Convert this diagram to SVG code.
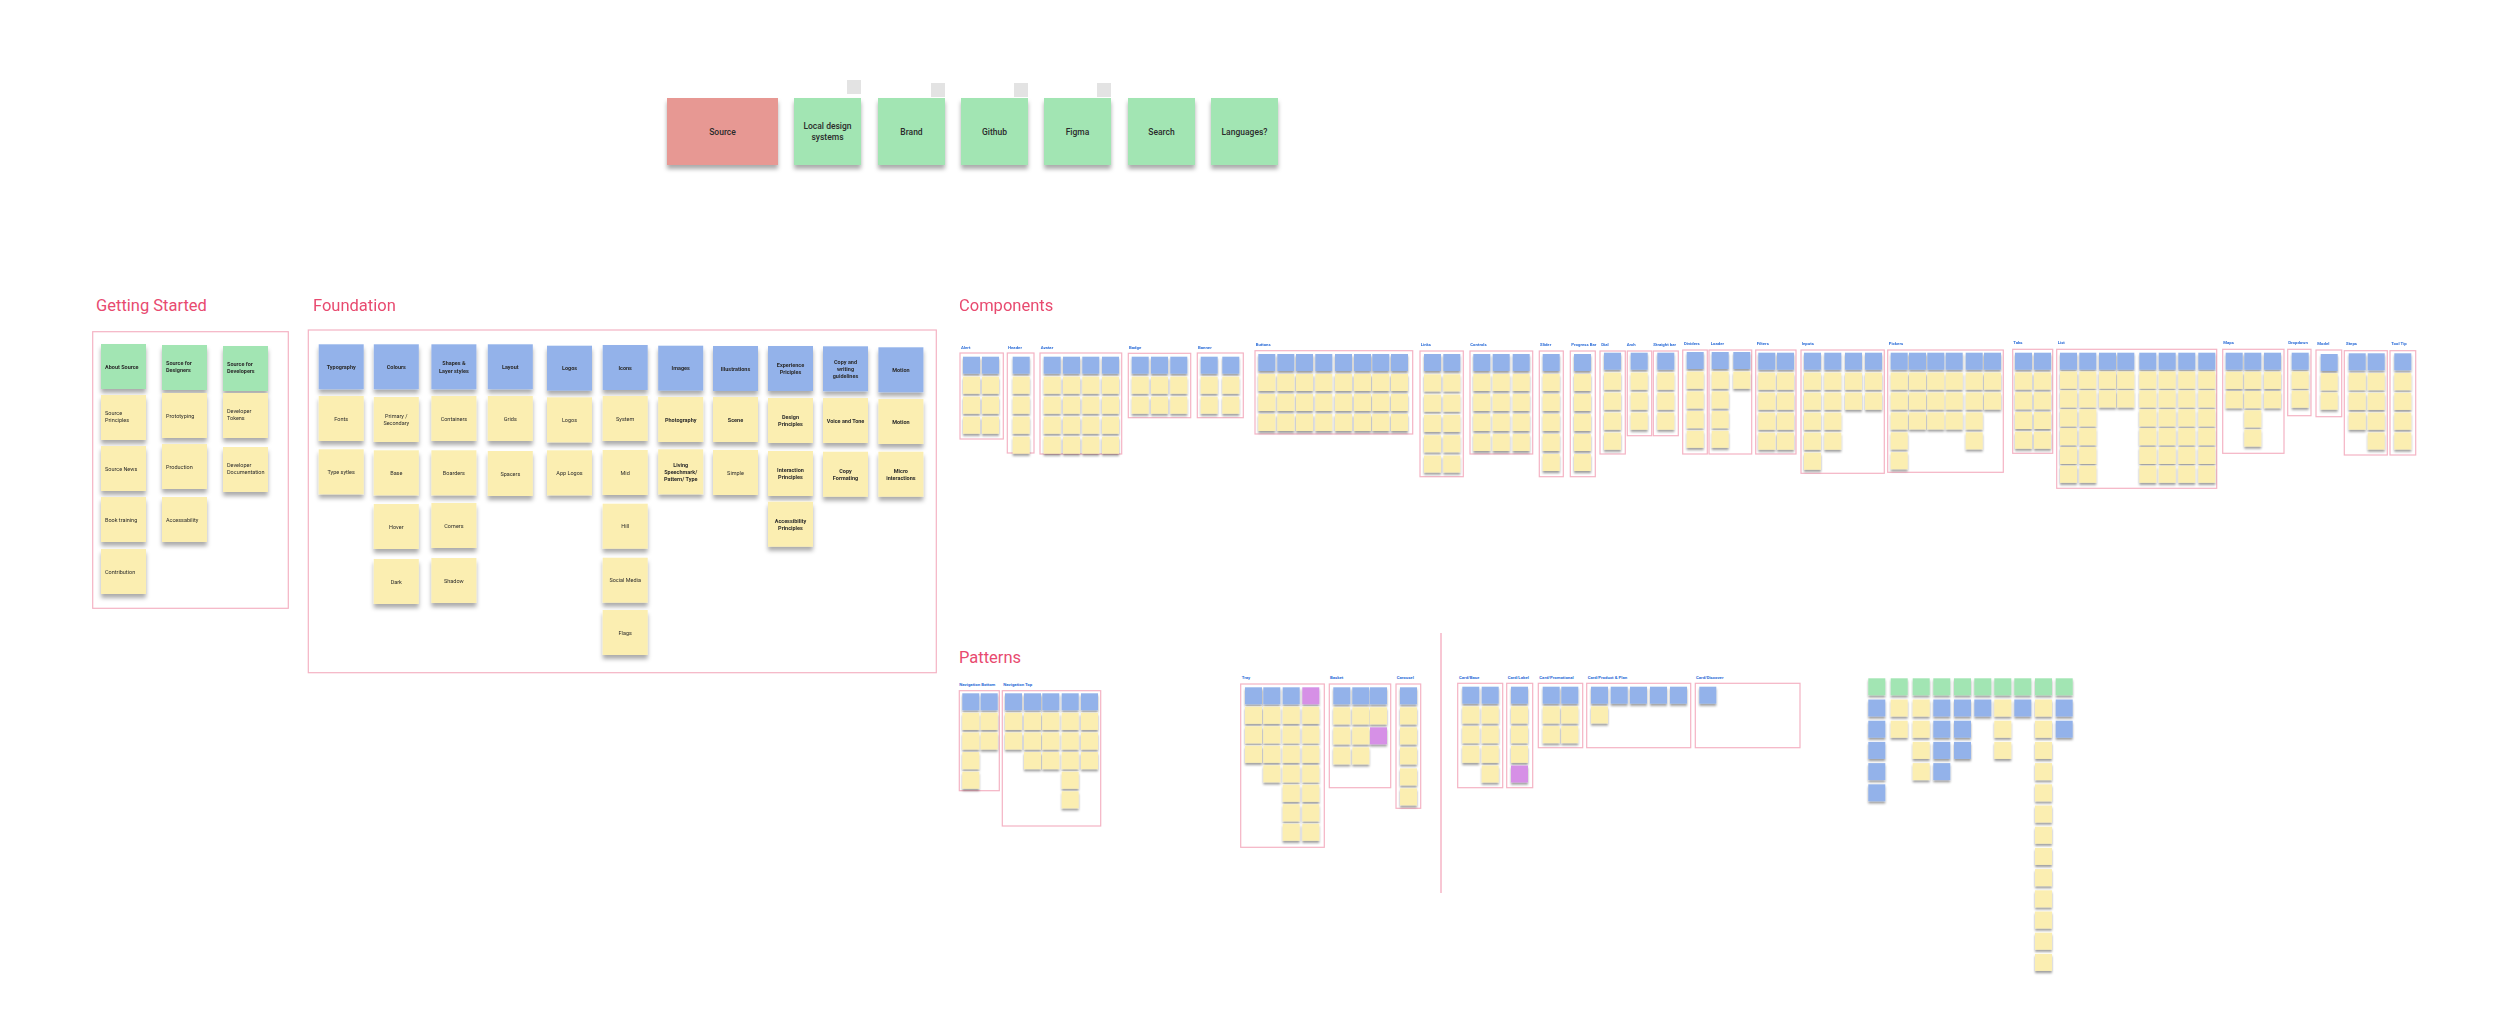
<svg xmlns="http://www.w3.org/2000/svg" width="2500" height="1011" viewBox="0 0 2500 1011">
<style>
text{font-family:Roboto,"Liberation Sans",Arial,sans-serif;fill:#2b2b2b}
.t{font-size:16.5px;fill:#E84A6F}
.lb{font-size:4.3px;font-weight:700;fill:#2F6FD8}
.big{font-size:8.5px;text-anchor:middle;font-weight:500}
.m{font-size:5.5px}
.c{text-anchor:middle}
.bd{font-weight:700}
.b{fill:#93B2EA}.y{fill:#FBEEB1}.g{fill:#A2E5B3}.p{fill:#D690E6}.r{fill:#E79893}
.box{fill:none;stroke:#F4B3C4;stroke-width:1.2}
.gray{fill:#E3E3E3}
</style>
<defs>
<rect id="n" width="17" height="17"/>
<rect id="N" width="45" height="45"/>
<filter id="sh" x="-20%" y="-20%" width="140%" height="160%"><feDropShadow dx="0" dy="4" stdDeviation="2.2" flood-color="#000" flood-opacity="0.33"/></filter>
<filter id="ss" x="-20%" y="-20%" width="140%" height="160%"><feDropShadow dx="0" dy="2.2" stdDeviation="1.3" flood-color="#000" flood-opacity="0.38"/></filter>
</defs>
<rect width="2500" height="1011" fill="#fff"/>

<!-- Top row -->
<g id="top">
<g class="gray"><rect x="847" y="80" width="14" height="14"/><rect x="931" y="83" width="14" height="14"/><rect x="1014" y="83" width="14" height="14"/><rect x="1097" y="83" width="14" height="14"/></g>
<g filter="url(#sh)">
<g id="n-source"><rect x="667" y="98" width="111" height="67" class="r"/></g>
<g id="n-local"><rect x="794" y="98" width="67" height="67" class="g"/></g>
<g id="n-brand"><rect x="878" y="98" width="67" height="67" class="g"/></g>
<g id="n-github"><rect x="961" y="98" width="67" height="67" class="g"/></g>
<g id="n-figma"><rect x="1044" y="98" width="67" height="67" class="g"/></g>
<g id="n-search"><rect x="1128" y="98" width="67" height="67" class="g"/></g>
<g id="n-lang"><rect x="1211" y="98" width="67" height="67" class="g"/></g>
</g>
<text class="big" x="722.5" y="134.5">Source</text>
<text class="big" x="827.5" y="129">Local design</text><text class="big" x="827.5" y="140">systems</text>
<text class="big" x="911.5" y="134.5">Brand</text>
<text class="big" x="994.5" y="134.5">Github</text>
<text class="big" x="1077.5" y="134.5">Figma</text>
<text class="big" x="1161.5" y="134.5">Search</text>
<text class="big" x="1244.5" y="134.5">Languages?</text>
</g>

<!-- Getting Started -->
<g id="getting-started">
<text class="t" x="96" y="311">Getting Started</text>
<rect class="box" x="92.7" y="331.7" width="195.6" height="276.6"/>
<g filter="url(#sh)">
<use href="#N" x="101" y="344" class="g"/><use href="#N" x="101" y="395" class="y"/><use href="#N" x="101" y="446" class="y"/><use href="#N" x="101" y="497" class="y"/><use href="#N" x="101" y="549" class="y"/>
<use href="#N" x="162" y="345" class="g"/><use href="#N" x="162" y="393" class="y"/><use href="#N" x="162" y="444" class="y"/><use href="#N" x="162" y="497" class="y"/>
<use href="#N" x="223" y="346" class="g"/><use href="#N" x="223" y="393" class="y"/><use href="#N" x="223" y="447" class="y"/>
</g>
<g class="m">
<text class="bd" x="105" y="368.5">About Source</text>
<text x="105" y="415">Source</text><text x="105" y="422.3">Principles</text>
<text x="105" y="470.5">Source News</text>
<text x="105" y="521.5">Book training</text>
<text x="105" y="573.5">Contribution</text>
<text class="bd" x="166" y="364.5">Source for</text><text class="bd" x="166" y="371.8">Designers</text>
<text x="166" y="417.5">Prototyping</text>
<text x="166" y="468.5">Production</text>
<text x="166" y="521.5">Accessability</text>
<text class="bd" x="227" y="365.5">Source for</text><text class="bd" x="227" y="372.8">Developers</text>
<text x="227" y="412.5">Developer</text><text x="227" y="419.8">Tokens</text>
<text x="227" y="466.5">Developer</text><text x="227" y="473.8">Documentation</text>
</g>
</g>

<!-- Foundation -->
<g id="foundation">
<text class="t" x="313" y="311">Foundation</text>
<rect class="box" x="308.3" y="330" width="628" height="342.7"/>
<g filter="url(#sh)">
<use href="#N" x="318.7" y="344.3" class="b"/><use href="#N" x="318.7" y="396" class="y"/><use href="#N" x="318.7" y="449.3" class="y"/>
<use href="#N" x="373.8" y="344.3" class="b"/><use href="#N" x="373.8" y="397" class="y"/><use href="#N" x="373.8" y="450.3" class="y"/><use href="#N" x="373.8" y="504" class="y"/><use href="#N" x="373.8" y="559" class="y"/>
<use href="#N" x="431.4" y="344.3" class="b"/><use href="#N" x="431.4" y="396" class="y"/><use href="#N" x="431.4" y="450.3" class="y"/><use href="#N" x="431.4" y="503" class="y"/><use href="#N" x="431.4" y="558" class="y"/>
<use href="#N" x="487.8" y="344.3" class="b"/><use href="#N" x="487.8" y="396" class="y"/><use href="#N" x="487.8" y="451" class="y"/>
<use href="#N" x="547" y="345.7" class="b"/><use href="#N" x="547" y="397.3" class="y"/><use href="#N" x="547" y="450.3" class="y"/>
<use href="#N" x="602.7" y="345" class="b"/><use href="#N" x="602.7" y="396" class="y"/><use href="#N" x="602.7" y="450" class="y"/><use href="#N" x="602.7" y="503.7" class="y"/><use href="#N" x="602.7" y="557.7" class="y"/><use href="#N" x="602.7" y="610" class="y"/>
<use href="#N" x="658.2" y="345.7" class="b"/><use href="#N" x="658.2" y="397" class="y"/><use href="#N" x="658.2" y="449.3" class="y"/>
<use href="#N" x="713" y="346" class="b"/><use href="#N" x="713" y="397" class="y"/><use href="#N" x="713" y="450" class="y"/>
<use href="#N" x="768" y="346" class="b"/><use href="#N" x="768" y="398" class="y"/><use href="#N" x="768" y="451" class="y"/><use href="#N" x="768" y="501.7" class="y"/>
<use href="#N" x="823" y="346.3" class="b"/><use href="#N" x="823" y="398" class="y"/><use href="#N" x="823" y="451.7" class="y"/>
<use href="#N" x="878.4" y="347.3" class="b"/><use href="#N" x="878.4" y="399" class="y"/><use href="#N" x="878.4" y="451.7" class="y"/>
</g>
<g class="m c">
<text class="bd" x="341.2" y="368.8">Typography</text>
<text x="341.2" y="420.5">Fonts</text>
<text x="341.2" y="473.8">Type sytles</text>
<text class="bd" x="396.3" y="368.8">Colours</text>
<text x="396.3" y="417.8">Primary /</text><text x="396.3" y="425.1">Secondary</text>
<text x="396.3" y="474.8">Base</text>
<text x="396.3" y="528.5">Hover</text>
<text x="396.3" y="583.5">Dark</text>
<text class="bd" x="453.9" y="365.2">Shapes &amp;</text><text class="bd" x="453.9" y="372.5">Layer styles</text>
<text x="453.9" y="420.5">Containers</text>
<text x="453.9" y="474.8">Boarders</text>
<text x="453.9" y="527.5">Corners</text>
<text x="453.9" y="582.5">Shadow</text>
<text class="bd" x="510.3" y="368.8">Layout</text>
<text x="510.3" y="420.5">Grids</text>
<text x="510.3" y="475.5">Spacers</text>
<text class="bd" x="569.5" y="370.2">Logos</text>
<text x="569.5" y="421.8">Logos</text>
<text x="569.5" y="474.8">App Logos</text>
<text class="bd" x="625.2" y="369.5">Icons</text>
<text x="625.2" y="420.5">System</text>
<text x="625.2" y="474.5">Mid</text>
<text x="625.2" y="528.2">Hill</text>
<text x="625.2" y="582.2">Social Media</text>
<text x="625.2" y="634.5">Flags</text>
<text class="bd" x="680.7" y="370.2">Images</text>
<text class="bd" x="680.7" y="421.5">Photography</text>
<text class="bd" x="680.7" y="466.5">Living</text><text class="bd" x="680.7" y="473.8">Speechmark/</text><text class="bd" x="680.7" y="481.1">Pattern/ Type</text>
<text class="bd" x="735.5" y="370.5">Illustrations</text>
<text class="bd" x="735.5" y="421.5">Scene</text>
<text x="735.5" y="474.5">Simple</text>
<text class="bd" x="790.5" y="366.8">Experience</text><text class="bd" x="790.5" y="374.1">Priciples</text>
<text class="bd" x="790.5" y="418.8">Design</text><text class="bd" x="790.5" y="426.1">Principles</text>
<text class="bd" x="790.5" y="471.8">Interaction</text><text class="bd" x="790.5" y="479.1">Principles</text>
<text class="bd" x="790.5" y="522.5">Accessibility</text><text class="bd" x="790.5" y="529.8">Principles</text>
<text class="bd" x="845.5" y="363.5">Copy and</text><text class="bd" x="845.5" y="370.8">writing</text><text class="bd" x="845.5" y="378.1">guidelines</text>
<text class="bd" x="845.5" y="422.5">Voice and Tone</text>
<text class="bd" x="845.5" y="472.5">Copy</text><text class="bd" x="845.5" y="479.8">Formating</text>
<text class="bd" x="900.9" y="371.8">Motion</text>
<text class="bd" x="900.9" y="423.5">Motion</text>
<text class="bd" x="900.9" y="472.5">Micro</text><text class="bd" x="900.9" y="479.8">interactions</text>
</g>
</g>

<!-- Components -->
<g id="components">
<text class="t" x="959" y="311">Components</text>

<g id="c-alert"><text class="lb" x="961" y="349">Alert</text><rect class="box" x="960" y="353" width="43.3" height="86"/>
<g filter="url(#ss)"><use href="#n" x="963" y="356.7" class="b"/><use href="#n" x="982" y="356.7" class="b"/>
<use href="#n" x="963" y="376.7" class="y"/><use href="#n" x="982" y="376.7" class="y"/><use href="#n" x="963" y="396.7" class="y"/><use href="#n" x="982" y="396.7" class="y"/><use href="#n" x="963" y="416.7" class="y"/><use href="#n" x="982" y="416.7" class="y"/></g></g>

<g id="c-header"><text class="lb" x="1008" y="349">Header</text><rect class="box" x="1007.3" y="353" width="26.7" height="100"/>
<g filter="url(#ss)"><use href="#n" x="1012.7" y="356.7" class="b"/><use href="#n" x="1012.7" y="376.7" class="y"/><use href="#n" x="1012.7" y="396.7" class="y"/><use href="#n" x="1012.7" y="416.7" class="y"/><use href="#n" x="1012.7" y="436.7" class="y"/></g></g>

<g id="c-avatar"><text class="lb" x="1040.7" y="349">Avatar</text><rect class="box" x="1040" y="353" width="81.7" height="101"/>
<g filter="url(#ss)">
<use href="#n" x="1043.7" y="356.7" class="b"/><use href="#n" x="1063" y="356.7" class="b"/><use href="#n" x="1082.3" y="356.7" class="b"/><use href="#n" x="1102" y="356.7" class="b"/>
<use href="#n" x="1043.7" y="376.7" class="y"/><use href="#n" x="1063" y="376.7" class="y"/><use href="#n" x="1082.3" y="376.7" class="y"/><use href="#n" x="1102" y="376.7" class="y"/>
<use href="#n" x="1043.7" y="396.7" class="y"/><use href="#n" x="1063" y="396.7" class="y"/><use href="#n" x="1082.3" y="396.7" class="y"/><use href="#n" x="1102" y="396.7" class="y"/>
<use href="#n" x="1043.7" y="416.7" class="y"/><use href="#n" x="1063" y="416.7" class="y"/><use href="#n" x="1082.3" y="416.7" class="y"/><use href="#n" x="1102" y="416.7" class="y"/>
<use href="#n" x="1043.7" y="436.7" class="y"/><use href="#n" x="1063" y="436.7" class="y"/><use href="#n" x="1082.3" y="436.7" class="y"/><use href="#n" x="1102" y="436.7" class="y"/>
</g></g>

<g id="c-badge"><text class="lb" x="1129" y="349">Badge</text><rect class="box" x="1128.3" y="353.3" width="62.4" height="64.4"/>
<g filter="url(#ss)">
<use href="#n" x="1131.7" y="356.7" class="b"/><use href="#n" x="1151" y="356.7" class="b"/><use href="#n" x="1170.3" y="356.7" class="b"/>
<use href="#n" x="1131.7" y="376.7" class="y"/><use href="#n" x="1151" y="376.7" class="y"/><use href="#n" x="1170.3" y="376.7" class="y"/>
<use href="#n" x="1131.7" y="396.7" class="y"/><use href="#n" x="1151" y="396.7" class="y"/><use href="#n" x="1170.3" y="396.7" class="y"/>
</g></g>

<g id="c-banner"><text class="lb" x="1198" y="349">Banner</text><rect class="box" x="1197.3" y="353" width="46" height="64.7"/>
<g filter="url(#ss)">
<use href="#n" x="1200.7" y="356.7" class="b"/><use href="#n" x="1222.3" y="356.7" class="b"/>
<use href="#n" x="1200.7" y="376.7" class="y"/><use href="#n" x="1222.3" y="376.7" class="y"/>
<use href="#n" x="1200.7" y="396.7" class="y"/><use href="#n" x="1222.3" y="396.7" class="y"/>
</g></g>

<g id="c-buttons"><text class="lb" x="1255.7" y="346">Buttons</text><rect class="box" x="1255" y="350.7" width="157.7" height="83.3"/>
<g filter="url(#ss)">
<use href="#n" x="1258.3" y="354" class="b"/><use href="#n" x="1277.3" y="354" class="b"/><use href="#n" x="1296" y="354" class="b"/><use href="#n" x="1315.3" y="354" class="b"/><use href="#n" x="1335" y="354" class="b"/><use href="#n" x="1354" y="354" class="b"/><use href="#n" x="1372.3" y="354" class="b"/><use href="#n" x="1391" y="354" class="b"/>
<use href="#n" x="1258.3" y="374" class="y"/><use href="#n" x="1277.3" y="374" class="y"/><use href="#n" x="1296" y="374" class="y"/><use href="#n" x="1315.3" y="374" class="y"/><use href="#n" x="1335" y="374" class="y"/><use href="#n" x="1354" y="374" class="y"/><use href="#n" x="1372.3" y="374" class="y"/><use href="#n" x="1391" y="374" class="y"/>
<use href="#n" x="1258.3" y="394" class="y"/><use href="#n" x="1277.3" y="394" class="y"/><use href="#n" x="1296" y="394" class="y"/><use href="#n" x="1315.3" y="394" class="y"/><use href="#n" x="1335" y="394" class="y"/><use href="#n" x="1354" y="394" class="y"/><use href="#n" x="1372.3" y="394" class="y"/><use href="#n" x="1391" y="394" class="y"/>
<use href="#n" x="1258.3" y="414" class="y"/><use href="#n" x="1277.3" y="414" class="y"/><use href="#n" x="1296" y="414" class="y"/><use href="#n" x="1315.3" y="414" class="y"/><use href="#n" x="1335" y="414" class="y"/><use href="#n" x="1354" y="414" class="y"/><use href="#n" x="1372.3" y="414" class="y"/><use href="#n" x="1391" y="414" class="y"/>
</g></g>

<g id="c-links"><text class="lb" x="1420.7" y="346">Links</text><rect class="box" x="1420" y="351" width="43.3" height="125.7"/>
<g filter="url(#ss)">
<use href="#n" x="1424" y="354" class="b"/><use href="#n" x="1443.3" y="354" class="b"/>
<use href="#n" x="1424" y="374.3" class="y"/><use href="#n" x="1443.3" y="374.3" class="y"/>
<use href="#n" x="1424" y="394.6" class="y"/><use href="#n" x="1443.3" y="394.6" class="y"/>
<use href="#n" x="1424" y="414.9" class="y"/><use href="#n" x="1443.3" y="414.9" class="y"/>
<use href="#n" x="1424" y="435.2" class="y"/><use href="#n" x="1443.3" y="435.2" class="y"/>
<use href="#n" x="1424" y="455.5" class="y"/><use href="#n" x="1443.3" y="455.5" class="y"/>
</g></g>

<g id="c-controls"><text class="lb" x="1470.3" y="346">Controls</text><rect class="box" x="1470" y="351" width="62.7" height="103"/>
<g filter="url(#ss)">
<use href="#n" x="1473.3" y="354" class="b"/><use href="#n" x="1492.7" y="354" class="b"/><use href="#n" x="1512.7" y="354" class="b"/>
<use href="#n" x="1473.3" y="374" class="y"/><use href="#n" x="1492.7" y="374" class="y"/><use href="#n" x="1512.7" y="374" class="y"/>
<use href="#n" x="1473.3" y="394" class="y"/><use href="#n" x="1492.7" y="394" class="y"/><use href="#n" x="1512.7" y="394" class="y"/>
<use href="#n" x="1473.3" y="414" class="y"/><use href="#n" x="1492.7" y="414" class="y"/><use href="#n" x="1512.7" y="414" class="y"/>
<use href="#n" x="1473.3" y="434" class="y"/><use href="#n" x="1492.7" y="434" class="y"/><use href="#n" x="1512.7" y="434" class="y"/>
</g></g>

<g id="c-slider"><text class="lb" x="1540" y="346">Slider</text><rect class="box" x="1539.3" y="351" width="24" height="125.7"/>
<g filter="url(#ss)"><use href="#n" x="1542.7" y="354" class="b"/><use href="#n" x="1542.7" y="374" class="y"/><use href="#n" x="1542.7" y="394" class="y"/><use href="#n" x="1542.7" y="414" class="y"/><use href="#n" x="1542.7" y="434" class="y"/><use href="#n" x="1542.7" y="454" class="y"/></g></g>

<g id="c-progress"><text class="lb" x="1571.3" y="346">Progress Bar</text><rect class="box" x="1570.3" y="351" width="25" height="125.7"/>
<g filter="url(#ss)"><use href="#n" x="1574" y="354" class="b"/><use href="#n" x="1574" y="374" class="y"/><use href="#n" x="1574" y="394" class="y"/><use href="#n" x="1574" y="414" class="y"/><use href="#n" x="1574" y="434" class="y"/><use href="#n" x="1574" y="454" class="y"/></g></g>

<g id="c-dial"><text class="lb" x="1601.3" y="346">Dial</text><rect class="box" x="1600" y="351" width="25.3" height="103"/>
<g filter="url(#ss)"><use href="#n" x="1604" y="352.7" class="b"/><use href="#n" x="1604" y="372.7" class="y"/><use href="#n" x="1604" y="392.7" class="y"/><use href="#n" x="1604" y="412.7" class="y"/><use href="#n" x="1604" y="432.7" class="y"/></g></g>

<g id="c-arch"><text class="lb" x="1626.7" y="346">Arch</text><rect class="box" x="1627.3" y="351" width="24.4" height="84.7"/>
<g filter="url(#ss)"><use href="#n" x="1630.7" y="352.7" class="b"/><use href="#n" x="1630.7" y="372.7" class="y"/><use href="#n" x="1630.7" y="392.7" class="y"/><use href="#n" x="1630.7" y="412.7" class="y"/></g></g>

<g id="c-straight"><text class="lb" x="1653.3" y="346">Straight bar</text><rect class="box" x="1653.3" y="351" width="25" height="84.7"/>
<g filter="url(#ss)"><use href="#n" x="1657.3" y="352.7" class="b"/><use href="#n" x="1657.3" y="372.7" class="y"/><use href="#n" x="1657.3" y="392.7" class="y"/><use href="#n" x="1657.3" y="412.7" class="y"/></g></g>

<g id="c-dividers"><text class="lb" x="1684" y="345">Dividers</text><rect class="box" x="1682.7" y="350" width="24.6" height="104"/>
<g filter="url(#ss)"><use href="#n" x="1686.7" y="352" class="b"/><use href="#n" x="1686.7" y="371.7" class="y"/><use href="#n" x="1686.7" y="391.4" class="y"/><use href="#n" x="1686.7" y="411.1" class="y"/><use href="#n" x="1686.7" y="430.8" class="y"/></g></g>

<g id="c-loader"><text class="lb" x="1710.7" y="345">Loader</text><rect class="box" x="1709" y="350" width="42.7" height="104"/>
<g filter="url(#ss)"><use href="#n" x="1711.7" y="352" class="b"/><use href="#n" x="1711.7" y="371.7" class="y"/><use href="#n" x="1711.7" y="391.4" class="y"/><use href="#n" x="1711.7" y="411.1" class="y"/><use href="#n" x="1711.7" y="430.8" class="y"/>
<use href="#n" x="1733.3" y="352" class="b"/><use href="#n" x="1733.3" y="371.7" class="y"/></g></g>

<g id="c-filters"><text class="lb" x="1756.7" y="345">Filters</text><rect class="box" x="1755.7" y="350" width="40.3" height="104"/>
<g filter="url(#ss)">
<use href="#n" x="1758.3" y="352.7" class="b"/><use href="#n" x="1777" y="352.7" class="b"/>
<use href="#n" x="1758.3" y="372.7" class="y"/><use href="#n" x="1777" y="372.7" class="y"/>
<use href="#n" x="1758.3" y="392.7" class="y"/><use href="#n" x="1777" y="392.7" class="y"/>
<use href="#n" x="1758.3" y="412.7" class="y"/><use href="#n" x="1777" y="412.7" class="y"/>
<use href="#n" x="1758.3" y="432.7" class="y"/><use href="#n" x="1777" y="432.7" class="y"/>
</g></g>

<g id="c-inputs"><text class="lb" x="1801.7" y="345">Inputs</text><rect class="box" x="1801" y="350" width="83.3" height="123.3"/>
<g filter="url(#ss)">
<use href="#n" x="1804" y="352.7" class="b"/><use href="#n" x="1824.3" y="352.7" class="b"/><use href="#n" x="1845" y="352.7" class="b"/><use href="#n" x="1865" y="352.7" class="b"/>
<use href="#n" x="1804" y="372.7" class="y"/><use href="#n" x="1824.3" y="372.7" class="y"/><use href="#n" x="1845" y="372.7" class="y"/><use href="#n" x="1865" y="372.7" class="y"/>
<use href="#n" x="1804" y="392.7" class="y"/><use href="#n" x="1824.3" y="392.7" class="y"/><use href="#n" x="1845" y="392.7" class="y"/><use href="#n" x="1865" y="392.7" class="y"/>
<use href="#n" x="1804" y="412.7" class="y"/><use href="#n" x="1824.3" y="412.7" class="y"/>
<use href="#n" x="1804" y="432.7" class="y"/><use href="#n" x="1824.3" y="432.7" class="y"/>
<use href="#n" x="1804" y="452.7" class="y"/>
</g></g>

<g id="c-pickers"><text class="lb" x="1888.7" y="345">Pickers</text><rect class="box" x="1887.7" y="350" width="115.6" height="122.3"/>
<g filter="url(#ss)">
<use href="#n" x="1890.7" y="352.7" class="b"/><use href="#n" x="1909" y="352.7" class="b"/><use href="#n" x="1927.3" y="352.7" class="b"/><use href="#n" x="1945.7" y="352.7" class="b"/><use href="#n" x="1965.7" y="352.7" class="b"/><use href="#n" x="1984" y="352.7" class="b"/>
<use href="#n" x="1890.7" y="372.6" class="y"/><use href="#n" x="1909" y="372.6" class="y"/><use href="#n" x="1927.3" y="372.6" class="y"/><use href="#n" x="1945.7" y="372.6" class="y"/><use href="#n" x="1965.7" y="372.6" class="y"/><use href="#n" x="1984" y="372.6" class="y"/>
<use href="#n" x="1890.7" y="392.5" class="y"/><use href="#n" x="1909" y="392.5" class="y"/><use href="#n" x="1927.3" y="392.5" class="y"/><use href="#n" x="1945.7" y="392.5" class="y"/><use href="#n" x="1965.7" y="392.5" class="y"/><use href="#n" x="1984" y="392.5" class="y"/>
<use href="#n" x="1890.7" y="412.4" class="y"/><use href="#n" x="1909" y="412.4" class="y"/><use href="#n" x="1927.3" y="412.4" class="y"/><use href="#n" x="1945.7" y="412.4" class="y"/><use href="#n" x="1965.7" y="412.4" class="y"/>
<use href="#n" x="1890.7" y="432.3" class="y"/><use href="#n" x="1965.7" y="432.3" class="y"/>
<use href="#n" x="1890.7" y="452.2" class="y"/>
</g></g>

<g id="c-tabs"><text class="lb" x="2013.3" y="344">Tabs</text><rect class="box" x="2012.7" y="349.3" width="40" height="104"/>
<g filter="url(#ss)">
<use href="#n" x="2015" y="352.7" class="b"/><use href="#n" x="2034" y="352.7" class="b"/>
<use href="#n" x="2015" y="372.5" class="y"/><use href="#n" x="2034" y="372.5" class="y"/>
<use href="#n" x="2015" y="392.2" class="y"/><use href="#n" x="2034" y="392.2" class="y"/>
<use href="#n" x="2015" y="412" class="y"/><use href="#n" x="2034" y="412" class="y"/>
<use href="#n" x="2015" y="431.7" class="y"/><use href="#n" x="2034" y="431.7" class="y"/>
</g></g>

<g id="c-list"><text class="lb" x="2057.7" y="344">List</text><rect class="box" x="2056.7" y="349.3" width="160" height="139"/>
<g filter="url(#ss)">
<use href="#n" x="2060" y="352.7" class="b"/><use href="#n" x="2079.3" y="352.7" class="b"/><use href="#n" x="2099" y="352.7" class="b"/><use href="#n" x="2117.3" y="352.7" class="b"/><use href="#n" x="2139.3" y="352.7" class="b"/><use href="#n" x="2158.7" y="352.7" class="b"/><use href="#n" x="2178.3" y="352.7" class="b"/><use href="#n" x="2198.3" y="352.7" class="b"/>
<use href="#n" x="2060" y="371.6" class="y"/><use href="#n" x="2079.3" y="371.6" class="y"/><use href="#n" x="2099" y="371.6" class="y"/><use href="#n" x="2117.3" y="371.6" class="y"/><use href="#n" x="2139.3" y="371.6" class="y"/><use href="#n" x="2158.7" y="371.6" class="y"/><use href="#n" x="2178.3" y="371.6" class="y"/><use href="#n" x="2198.3" y="371.6" class="y"/>
<use href="#n" x="2060" y="390.4" class="y"/><use href="#n" x="2079.3" y="390.4" class="y"/><use href="#n" x="2099" y="390.4" class="y"/><use href="#n" x="2117.3" y="390.4" class="y"/><use href="#n" x="2139.3" y="390.4" class="y"/><use href="#n" x="2158.7" y="390.4" class="y"/><use href="#n" x="2178.3" y="390.4" class="y"/><use href="#n" x="2198.3" y="390.4" class="y"/>
<use href="#n" x="2060" y="409.3" class="y"/><use href="#n" x="2079.3" y="409.3" class="y"/><use href="#n" x="2139.3" y="409.3" class="y"/><use href="#n" x="2158.7" y="409.3" class="y"/><use href="#n" x="2178.3" y="409.3" class="y"/><use href="#n" x="2198.3" y="409.3" class="y"/>
<use href="#n" x="2060" y="428.1" class="y"/><use href="#n" x="2079.3" y="428.1" class="y"/><use href="#n" x="2139.3" y="428.1" class="y"/><use href="#n" x="2158.7" y="428.1" class="y"/><use href="#n" x="2178.3" y="428.1" class="y"/><use href="#n" x="2198.3" y="428.1" class="y"/>
<use href="#n" x="2060" y="447" class="y"/><use href="#n" x="2079.3" y="447" class="y"/><use href="#n" x="2139.3" y="447" class="y"/><use href="#n" x="2158.7" y="447" class="y"/><use href="#n" x="2178.3" y="447" class="y"/><use href="#n" x="2198.3" y="447" class="y"/>
<use href="#n" x="2060" y="465.8" class="y"/><use href="#n" x="2079.3" y="465.8" class="y"/><use href="#n" x="2139.3" y="465.8" class="y"/><use href="#n" x="2158.7" y="465.8" class="y"/><use href="#n" x="2178.3" y="465.8" class="y"/><use href="#n" x="2198.3" y="465.8" class="y"/>
</g></g>

<g id="c-maps"><text class="lb" x="2223.3" y="344">Maps</text><rect class="box" x="2222.7" y="349.3" width="61.3" height="104"/>
<g filter="url(#ss)">
<use href="#n" x="2225.7" y="352.7" class="b"/><use href="#n" x="2244.3" y="352.7" class="b"/><use href="#n" x="2264" y="352.7" class="b"/>
<use href="#n" x="2225.7" y="371.9" class="y"/><use href="#n" x="2244.3" y="371.9" class="y"/><use href="#n" x="2264" y="371.9" class="y"/>
<use href="#n" x="2225.7" y="391.1" class="y"/><use href="#n" x="2244.3" y="391.1" class="y"/><use href="#n" x="2264" y="391.1" class="y"/>
<use href="#n" x="2244.3" y="410.3" class="y"/><use href="#n" x="2244.3" y="429.5" class="y"/>
</g></g>

<g id="c-dropdown"><text class="lb" x="2288.3" y="344">Dropdown</text><rect class="box" x="2287.7" y="349.3" width="23.3" height="66.4"/>
<g filter="url(#ss)"><use href="#n" x="2291.7" y="352.7" class="b"/><use href="#n" x="2291.7" y="371.7" class="y"/><use href="#n" x="2291.7" y="390.7" class="y"/></g></g>

<g id="c-model"><text class="lb" x="2317.3" y="345">Model</text><rect class="box" x="2316" y="350" width="25.7" height="66.7"/>
<g filter="url(#ss)"><use href="#n" x="2320.7" y="354" class="b"/><use href="#n" x="2320.7" y="373.3" class="y"/><use href="#n" x="2320.7" y="392.6" class="y"/></g></g>

<g id="c-steps"><text class="lb" x="2346" y="345">Steps</text><rect class="box" x="2344.3" y="350.7" width="43" height="104.3"/>
<g filter="url(#ss)">
<use href="#n" x="2348.7" y="353.3" class="b"/><use href="#n" x="2367.7" y="353.3" class="b"/>
<use href="#n" x="2348.7" y="373.1" class="y"/><use href="#n" x="2367.7" y="373.1" class="y"/>
<use href="#n" x="2348.7" y="392.9" class="y"/><use href="#n" x="2367.7" y="392.9" class="y"/>
<use href="#n" x="2348.7" y="412.7" class="y"/><use href="#n" x="2367.7" y="412.7" class="y"/>
<use href="#n" x="2367.7" y="432.5" class="y"/>
</g></g>

<g id="c-tooltip"><text class="lb" x="2391.3" y="345">Tool Tip</text><rect class="box" x="2390" y="350.7" width="25.7" height="104.3"/>
<g filter="url(#ss)"><use href="#n" x="2394.3" y="353.3" class="b"/><use href="#n" x="2394.3" y="373.1" class="y"/><use href="#n" x="2394.3" y="392.9" class="y"/><use href="#n" x="2394.3" y="412.7" class="y"/><use href="#n" x="2394.3" y="432.5" class="y"/></g></g>
</g>

<!-- Patterns -->
<g id="patterns">
<text class="t" x="959" y="663">Patterns</text>

<g id="p-navbottom"><text class="lb" x="959.3" y="686">Navigation Bottom</text><rect class="box" x="959.3" y="690.7" width="40" height="100"/>
<g filter="url(#ss)">
<use href="#n" x="962.3" y="693.3" class="b"/><use href="#n" x="980.7" y="693.3" class="b"/>
<use href="#n" x="962.3" y="712.9" class="y"/><use href="#n" x="980.7" y="712.9" class="y"/>
<use href="#n" x="962.3" y="732.5" class="y"/><use href="#n" x="980.7" y="732.5" class="y"/>
<use href="#n" x="962.3" y="752.1" class="y"/><use href="#n" x="962.3" y="771.7" class="y"/>
</g></g>

<g id="p-navtop"><text class="lb" x="1003.3" y="686">Navigation Top</text><rect class="box" x="1002.3" y="690.7" width="98.4" height="135.3"/>
<g filter="url(#ss)">
<use href="#n" x="1005" y="693.3" class="b"/><use href="#n" x="1024" y="693.3" class="b"/><use href="#n" x="1042.3" y="693.3" class="b"/><use href="#n" x="1061.7" y="693.3" class="b"/><use href="#n" x="1081" y="693.3" class="b"/>
<use href="#n" x="1005" y="712.9" class="y"/><use href="#n" x="1024" y="712.9" class="y"/><use href="#n" x="1042.3" y="712.9" class="y"/><use href="#n" x="1061.7" y="712.9" class="y"/><use href="#n" x="1081" y="712.9" class="y"/>
<use href="#n" x="1005" y="732.5" class="y"/><use href="#n" x="1024" y="732.5" class="y"/><use href="#n" x="1042.3" y="732.5" class="y"/><use href="#n" x="1061.7" y="732.5" class="y"/><use href="#n" x="1081" y="732.5" class="y"/>
<use href="#n" x="1024" y="752.1" class="y"/><use href="#n" x="1042.3" y="752.1" class="y"/><use href="#n" x="1061.7" y="752.1" class="y"/><use href="#n" x="1081" y="752.1" class="y"/>
<use href="#n" x="1061.7" y="771.7" class="y"/><use href="#n" x="1061.7" y="791.3" class="y"/>
</g></g>

<g id="p-tray"><text class="lb" x="1241.7" y="679">Tray</text><rect class="box" x="1240.7" y="684" width="83.6" height="163.3"/>
<g filter="url(#ss)">
<use href="#n" x="1245" y="687.3" class="b"/><use href="#n" x="1263.3" y="687.3" class="b"/><use href="#n" x="1282.7" y="687.3" class="b"/><use href="#n" x="1302.3" y="687.3" class="p"/>
<use href="#n" x="1245" y="706.8" class="y"/><use href="#n" x="1263.3" y="706.8" class="y"/><use href="#n" x="1282.7" y="706.8" class="y"/><use href="#n" x="1302.3" y="706.8" class="y"/>
<use href="#n" x="1245" y="726.3" class="y"/><use href="#n" x="1263.3" y="726.3" class="y"/><use href="#n" x="1282.7" y="726.3" class="y"/><use href="#n" x="1302.3" y="726.3" class="y"/>
<use href="#n" x="1245" y="745.8" class="y"/><use href="#n" x="1263.3" y="745.8" class="y"/><use href="#n" x="1282.7" y="745.8" class="y"/><use href="#n" x="1302.3" y="745.8" class="y"/>
<use href="#n" x="1263.3" y="765.3" class="y"/><use href="#n" x="1282.7" y="765.3" class="y"/><use href="#n" x="1302.3" y="765.3" class="y"/>
<use href="#n" x="1282.7" y="784.8" class="y"/><use href="#n" x="1302.3" y="784.8" class="y"/>
<use href="#n" x="1282.7" y="804.3" class="y"/><use href="#n" x="1302.3" y="804.3" class="y"/>
<use href="#n" x="1282.7" y="823.8" class="y"/><use href="#n" x="1302.3" y="823.8" class="y"/>
</g></g>

<g id="p-basket"><text class="lb" x="1330" y="679">Basket</text><rect class="box" x="1329.3" y="684" width="61.4" height="103.7"/>
<g filter="url(#ss)">
<use href="#n" x="1333.3" y="687.3" class="b"/><use href="#n" x="1352.3" y="687.3" class="b"/><use href="#n" x="1370" y="687.3" class="b"/>
<use href="#n" x="1333.3" y="707.3" class="y"/><use href="#n" x="1352.3" y="707.3" class="y"/><use href="#n" x="1370" y="707.3" class="y"/>
<use href="#n" x="1333.3" y="727.3" class="y"/><use href="#n" x="1352.3" y="727.3" class="y"/><use href="#n" x="1370" y="727.3" class="p"/>
<use href="#n" x="1333.3" y="747.3" class="y"/><use href="#n" x="1352.3" y="747.3" class="y"/>
</g></g>

<g id="p-carousel"><text class="lb" x="1396.7" y="679">Carousel</text><rect class="box" x="1396" y="684" width="24.7" height="124.3"/>
<g filter="url(#ss)"><use href="#n" x="1400" y="687.3" class="b"/><use href="#n" x="1400" y="707.3" class="y"/><use href="#n" x="1400" y="727.3" class="y"/><use href="#n" x="1400" y="747.3" class="y"/><use href="#n" x="1400" y="768.3" class="y"/><use href="#n" x="1400" y="788.3" class="y"/></g></g>

<line x1="1441" y1="633" x2="1441" y2="893" stroke="#F4A9BD" stroke-width="1.3"/>

<g id="p-cardbase"><text class="lb" x="1459" y="679">Card/Base</text><rect class="box" x="1457.7" y="683.3" width="45" height="104.4"/>
<g filter="url(#ss)">
<use href="#n" x="1462.3" y="686.7" class="b"/><use href="#n" x="1481.7" y="686.7" class="b"/>
<use href="#n" x="1462.3" y="706.4" class="y"/><use href="#n" x="1481.7" y="706.4" class="y"/>
<use href="#n" x="1462.3" y="726.1" class="y"/><use href="#n" x="1481.7" y="726.1" class="y"/>
<use href="#n" x="1462.3" y="745.8" class="y"/><use href="#n" x="1481.7" y="745.8" class="y"/>
<use href="#n" x="1481.7" y="765.5" class="y"/>
</g></g>

<g id="p-cardlabel"><text class="lb" x="1507.7" y="679">Card/Label</text><rect class="box" x="1506.7" y="683.3" width="26" height="104.4"/>
<g filter="url(#ss)"><use href="#n" x="1511" y="686.7" class="b"/><use href="#n" x="1511" y="706.4" class="y"/><use href="#n" x="1511" y="726.1" class="y"/><use href="#n" x="1511" y="745.8" class="y"/><use href="#n" x="1511" y="765.5" class="p"/></g></g>

<g id="p-cardpromo"><text class="lb" x="1539.3" y="679">Card/Promotional</text><rect class="box" x="1538.3" y="683.3" width="44.4" height="64.4"/>
<g filter="url(#ss)">
<use href="#n" x="1542.7" y="686.7" class="b"/><use href="#n" x="1561.3" y="686.7" class="b"/>
<use href="#n" x="1542.7" y="706.4" class="y"/><use href="#n" x="1561.3" y="706.4" class="y"/>
<use href="#n" x="1542.7" y="726.1" class="y"/><use href="#n" x="1561.3" y="726.1" class="y"/>
</g></g>

<g id="p-cardproduct"><text class="lb" x="1587.7" y="679">Card/Product &amp; Plan</text><rect class="box" x="1586.7" y="683.3" width="104" height="64.4"/>
<g filter="url(#ss)">
<use href="#n" x="1591" y="686.7" class="b"/><use href="#n" x="1610.7" y="686.7" class="b"/><use href="#n" x="1630" y="686.7" class="b"/><use href="#n" x="1650" y="686.7" class="b"/><use href="#n" x="1670" y="686.7" class="b"/>
<use href="#n" x="1591" y="706.4" class="y"/>
</g></g>

<g id="p-carddiscover"><text class="lb" x="1696" y="679">Card/Discover</text><rect class="box" x="1695.3" y="683.3" width="104.7" height="64.4"/>
<g filter="url(#ss)"><use href="#n" x="1699.3" y="686.7" class="b"/></g></g>

<g id="p-grid" filter="url(#ss)">
<use href="#n" x="1868.3" y="678.3" class="g"/><use href="#n" x="1868.3" y="699.5" class="b"/><use href="#n" x="1868.3" y="720.7" class="b"/><use href="#n" x="1868.3" y="741.9" class="b"/><use href="#n" x="1868.3" y="763.1" class="b"/><use href="#n" x="1868.3" y="784.3" class="b"/>
<use href="#n" x="1890.7" y="678.3" class="g"/><use href="#n" x="1890.7" y="699.5" class="y"/><use href="#n" x="1890.7" y="720.7" class="y"/>
<use href="#n" x="1912.7" y="678.3" class="g"/><use href="#n" x="1912.7" y="699.5" class="y"/><use href="#n" x="1912.7" y="720.7" class="y"/><use href="#n" x="1912.7" y="741.9" class="y"/><use href="#n" x="1912.7" y="763.1" class="y"/>
<use href="#n" x="1933.3" y="678.3" class="g"/><use href="#n" x="1933.3" y="699.5" class="b"/><use href="#n" x="1933.3" y="720.7" class="b"/><use href="#n" x="1933.3" y="741.9" class="b"/><use href="#n" x="1933.3" y="763.1" class="b"/>
<use href="#n" x="1954" y="678.3" class="g"/><use href="#n" x="1954" y="699.5" class="b"/><use href="#n" x="1954" y="720.7" class="b"/><use href="#n" x="1954" y="741.9" class="b"/>
<use href="#n" x="1974.3" y="678.3" class="g"/><use href="#n" x="1974.3" y="699.5" class="b"/>
<use href="#n" x="1994.3" y="678.3" class="g"/><use href="#n" x="1994.3" y="699.5" class="y"/><use href="#n" x="1994.3" y="720.7" class="y"/><use href="#n" x="1994.3" y="741.9" class="y"/>
<use href="#n" x="2014.3" y="678.3" class="g"/><use href="#n" x="2014.3" y="699.5" class="b"/>
<use href="#n" x="2035" y="678.3" class="g"/><use href="#n" x="2035" y="699.5" class="y"/><use href="#n" x="2035" y="720.7" class="y"/><use href="#n" x="2035" y="741.9" class="y"/><use href="#n" x="2035" y="763.1" class="y"/><use href="#n" x="2035" y="784.3" class="y"/><use href="#n" x="2035" y="805.5" class="y"/><use href="#n" x="2035" y="826.7" class="y"/><use href="#n" x="2035" y="847.9" class="y"/><use href="#n" x="2035" y="869.1" class="y"/><use href="#n" x="2035" y="890.3" class="y"/><use href="#n" x="2035" y="911.5" class="y"/><use href="#n" x="2035" y="932.7" class="y"/><use href="#n" x="2035" y="953.9" class="y"/>
<use href="#n" x="2055.7" y="678.3" class="g"/><use href="#n" x="2055.7" y="699.5" class="b"/><use href="#n" x="2055.7" y="720.7" class="b"/>
</g>
</g>

<g id="connectors"></g>
</svg>
